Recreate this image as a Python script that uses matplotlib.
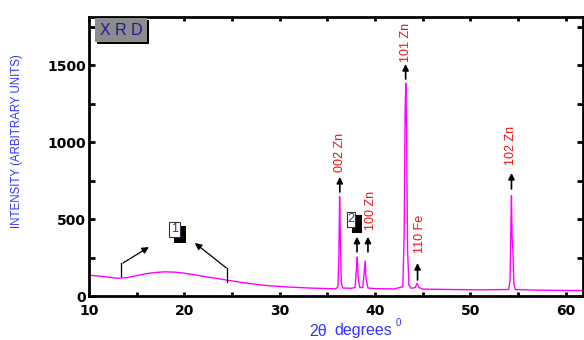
import matplotlib
matplotlib.use("Agg")
import matplotlib.pyplot as plt
from matplotlib.patches import Rectangle
import numpy as np

plt.rcParams['font.family'] = ['Liberation Sans', 'DejaVu Sans']

# ---- data ----
two_theta = [10, 11, 12, 13, 14, 15, 16, 17, 18, 19, 20, 21, 22, 23, 24, 25, 26, 27, 28, 29,
             30, 31, 32, 33, 34, 35, 35.9, 36.1, 36.2, 36.28, 36.35, 36.45, 36.6,
             37.5, 37.9, 38.05, 38.13, 38.22, 38.4, 38.7, 38.85, 38.96, 39.05, 39.25,
             40, 42, 42.9, 43.05, 43.15, 43.22, 43.3, 43.4, 43.55, 43.8,
             44.2, 44.4, 44.6, 45, 48, 51, 54.0, 54.15, 54.25, 54.3, 54.36, 54.45, 54.55, 54.7,
             57, 60, 62]
intensity = [135, 130, 122, 115, 120, 132, 145, 153, 157, 155, 148, 138, 128, 118, 108, 98, 88, 80, 72, 66,
             62, 58, 55, 52, 50, 48, 47, 60, 250, 645, 400, 90, 52,
             50, 55, 180, 253, 120, 55, 55, 150, 227, 110, 52,
             48, 46, 60, 400, 1200, 1380, 1100, 300, 70, 50,
             55, 82, 55, 45, 42, 40, 42, 100, 500, 651, 390, 300, 80, 42,
             38, 36, 35]

peak_labels = ["002 Zn", "101 Zn", "100 Zn", "110 Fe", "102 Zn"]
x_ticks = [10, 20, 30, 40, 50, 60]
y_ticks = [0, 500, 1000, 1500]

W, H = 584, 340
fig = plt.figure(figsize=(W / 100, H / 100), dpi=100)
ax = fig.add_axes([89 / W, (H - 296) / H, (583 - 89) / W, (296 - 17) / H])

ax.plot(two_theta, intensity, color='#ff00ff', lw=1.0)
ax.set_xlim(10, 61.8)
ax.set_ylim(0, 1812)

ax.set_xticks(x_ticks)
ax.set_yticks(y_ticks)
ax.set_xticks(np.arange(15, 62, 10), minor=True)
ax.set_yticks(np.arange(250, 1800, 500), minor=True)
ax.tick_params(which='both', direction='in', length=3, width=2, top=True, right=True,
               labelsize=10, pad=2)
ax.tick_params(axis='x', which='major', pad=6)
ax.tick_params(axis='y', which='both', right=True, length=4)
for lab in ax.get_xticklabels() + ax.get_yticklabels():
    lab.set_fontweight('bold')
    lab.set_fontfamily('DejaVu Sans')
for s in ax.spines.values():
    s.set_linewidth(2)

red = '#ee1111'
arrow_kw = dict(arrowstyle='-|>', color='black', lw=1.2, mutation_scale=9, shrinkA=0, shrinkB=0)

def up_arrow(x, y0, y1):
    ax.annotate('', xy=(x, y1), xytext=(x, y0), arrowprops=arrow_kw)

# 002 Zn
up_arrow(36.3, 675, 773)
ax.text(36.3, 805, peak_labels[0], rotation=90, ha='center', va='bottom', color=red, fontsize=9)
# 101 Zn
up_arrow(43.2, 1409, 1506)
ax.text(43.2, 1519, peak_labels[1], rotation=90, ha='center', va='bottom', color=red, fontsize=9)
# 100 Zn
up_arrow(38.1, 287, 385)
up_arrow(39.25, 287, 385)
ax.text(39.6, 429, peak_labels[2], rotation=90, ha='center', va='bottom', color=red, fontsize=9)
# 110 Fe
up_arrow(44.45, 104, 214)
ax.text(44.7, 279, peak_labels[3], rotation=90, ha='center', va='bottom', color=red, fontsize=9)
# 102 Zn
up_arrow(54.3, 695, 799)
ax.text(54.3, 851, peak_labels[4], rotation=90, ha='center', va='bottom', color=red, fontsize=9)

# region 1 markers
ax.plot([13.32, 13.32], [130, 214], color='black', lw=0.9)
ax.annotate('', xy=(16.28, 318), xytext=(13.56, 214),
            arrowprops=dict(arrowstyle='-|>', color='black', lw=0.9, mutation_scale=10, shrinkA=0, shrinkB=0))
ax.plot([24.45, 24.45], [91, 182], color='black', lw=0.9)
ax.annotate('', xy=(21.1, 344), xytext=(24.4, 182),
            arrowprops=dict(arrowstyle='-|>', color='black', lw=0.9, mutation_scale=10, shrinkA=0, shrinkB=0))

def fig_rect(x0, y0, x1, y1, **kw):
    fig.patches.append(Rectangle((x0 / W, (H - y1) / H), (x1 - x0) / W, (y1 - y0) / H,
                                 transform=fig.transFigure, **kw))

# numbered boxes with shadows
fig_rect(174, 226, 185.7, 243, facecolor='black', edgecolor='black', lw=0)
fig_rect(169.3, 221.7, 180, 237, facecolor='white', edgecolor='#333333', lw=0.8)
fig.text(174.6 / W, (H - 229.5) / H, '1', color='#333399', fontsize=9, ha='center', va='center')
fig_rect(351.7, 215, 362.3, 233.3, facecolor='black', edgecolor='black', lw=0)
fig_rect(346.7, 211.7, 355, 227, facecolor='white', edgecolor='#333333', lw=0.8)
fig.text(350.9 / W, (H - 219.5) / H, '2', color='#333399', fontsize=9, ha='center', va='center')

# XRD box
fig_rect(97, 20, 149, 44, facecolor='black', edgecolor='black', lw=0)
fig_rect(95, 18, 147, 42, facecolor='#8c8c8c', edgecolor='#8c8c8c', lw=0)
fig.text(121 / W, (H - 30.5) / H, 'X R D', color='#1a1aa0', fontsize=11.5, ha='center', va='center')

# axis labels
fig.text(17 / W, (H - 141) / H, 'INTENSITY (ARBITRARY UNITS)', rotation=90, color='#3333ff',
         fontsize=8.3, ha='center', va='center')
fig.text(309 / W, (H - 331) / H, '2\u03b8', color='#3333ff', fontsize=11.5,
         ha='left', va='center')
fig.text(334 / W, (H - 331) / H, 'degrees', color='#3333ff', fontsize=11.5,
         ha='left', va='center')
fig.text(396 / W, (H - 323) / H, '0', color='#3333ff', fontsize=7,
         ha='left', va='center')

fig.savefig('out.png', dpi=100)
